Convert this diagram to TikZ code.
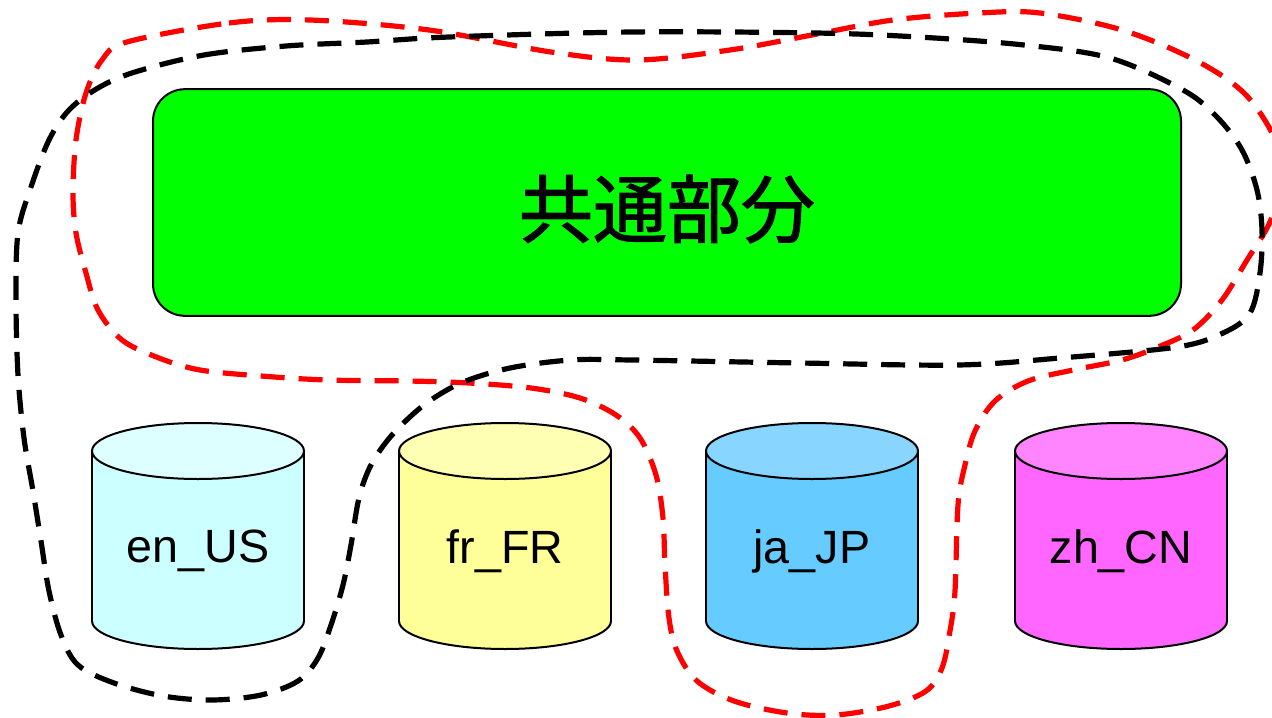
\documentclass[tikz,border=0pt]{standalone}
\usepackage{fontspec}
\setmainfont{Liberation Sans}
\newfontfamily\cjkfont{Noto Sans CJK JP}[FakeBold=1.6]

\definecolor{boxgreen}{HTML}{00FF00}
\definecolor{enbody}{HTML}{CCFFFF}
\definecolor{entop}{HTML}{DDFFFF}
\definecolor{frbody}{HTML}{FFFF99}
\definecolor{frtop}{HTML}{FFFFB3}
\definecolor{jabody}{HTML}{66CCFF}
\definecolor{jatop}{HTML}{88D6FF}
\definecolor{zhbody}{HTML}{FF66FF}
\definecolor{zhtop}{HTML}{FF85FF}
\definecolor{loopred}{HTML}{FF0000}

% database cylinder: #1 centre x, #2 body colour, #3 top colour
\newcommand\dbcylinder[3]{%
  \draw[cylline, fill=#2] (#1,621) ellipse [x radius=79.5pt, y radius=21pt];
  \fill[#2] (#1-106,451) rectangle (#1+106,621);
  \draw[cylline] (#1-106,451) -- (#1-106,621);
  \draw[cylline] (#1+106,451) -- (#1+106,621);
  \draw[cylline, fill=#3] (#1,451) ellipse [x radius=79.5pt, y radius=21pt];
}

\begin{document}
\begin{tikzpicture}[x=0.75pt, y=-0.75pt,
  cylline/.style={draw=black, line width=1.5pt},
  loopline/.style={line width=3.9pt, dash pattern=on 18pt off 10.5pt},
  dblabel/.style={font=\fontsize{35pt}{40pt}\selectfont, inner sep=0pt},
  commonbox/.style={draw=black, line width=1.5pt, fill=boxgreen,
    rounded corners=24pt, minimum width=771pt, minimum height=170pt, inner sep=0pt}]

\useasboundingbox (0,0) rectangle (1272,718);

% shared part
\node[commonbox] (common) at (667,202.5) {};
\node[font=\cjkfont\fontsize{55.5pt}{60pt}\selectfont, inner sep=0pt] (commontext) at (667,209) {共通部分};

% locale databases
\dbcylinder{198}{enbody}{entop}
\dbcylinder{505}{frbody}{frtop}
\dbcylinder{812}{jabody}{jatop}
\dbcylinder{1121}{zhbody}{zhtop}
\node[dblabel] (enUS) at (198,551) {en\_US};
\node[dblabel] (frFR) at (505,551) {fr\_FR};
\node[dblabel] (jaJP) at (812,551) {ja\_JP};
\node[dblabel] (zhCN) at (1121,551) {zh\_CN};

% grouping loops
\begin{scope}
\clip (0,0) rectangle (1272,718);
\draw[loopline, draw=loopred] plot[smooth cycle, tension=0.55] coordinates {
  (127,42) (229,23) (310,20) (429,30) (551,52) (637,60) (730,50) (812,35)
  (893,20) (979,13) (1040,13) (1122,30) (1195,60) (1244,93) (1274,137)
  (1284,178) (1270,222) (1247,260) (1222,300) (1193,330) (1158,347)
  (1122,360) (1073,370) (1028,381) (995,401) (975,431) (965,465) (958,505)
  (955,591) (950,631) (942,668) (926,691) (889,706) (836,715) (787,713)
  (734,701) (697,681) (677,651) (669,618) (665,565) (663,518) (656,475)
  (640,438) (616,415) (580,398) (531,388) (469,383) (408,381) (327,380)
  (261,376) (200,370) (159,358) (122,340) (98,310) (86,273) (76,233)
  (73,193) (76,140) (86,93) (102,60)};
\draw[loopline, draw=black] plot[smooth cycle, tension=0.55] coordinates {
  (135,72) (204,55) (286,46) (367,42) (449,37) (632,32) (816,33) (918,37)
  (1024,45) (1110,58) (1183,90) (1217,117) (1242,150) (1257,190) (1262,230)
  (1260,273) (1250,313) (1223,333) (1177,347) (1060,358) (958,365)
  (800,363) (632,360) (571,360) (510,368) (461,383) (424,405) (392,435)
  (371,465) (359,498) (351,545) (343,585) (331,625) (318,658) (298,681)
  (261,695) (212,700) (163,696) (114,683) (78,665) (61,635) (49,591)
  (41,541) (33,491) (24,438) (18,375) (16,300) (18,233) (31,187) (49,140)
  (69,110) (98,88)};
\end{scope}
\end{tikzpicture}
\end{document}
